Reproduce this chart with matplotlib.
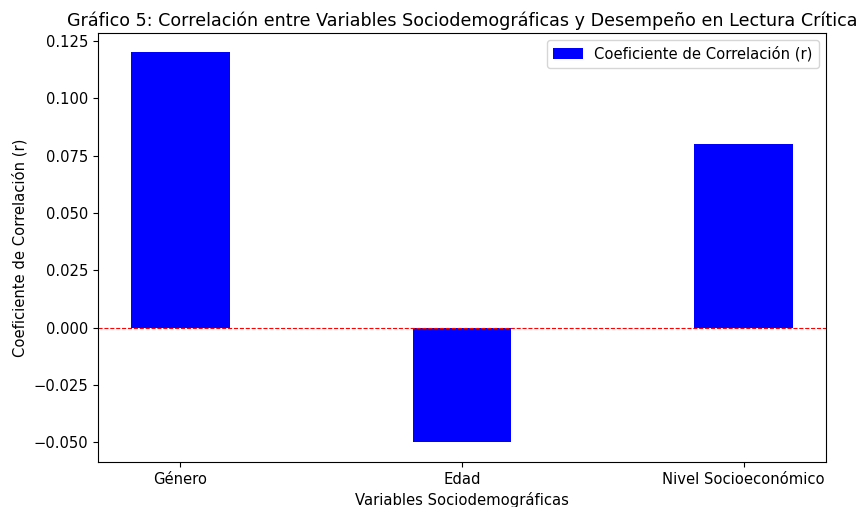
import matplotlib
matplotlib.use("Agg")
import matplotlib.pyplot as plt

categories = ["Género", "Edad", "Nivel Socioeconómico"]
correlations = [0.12, -0.05, 0.08]

fig = plt.figure(figsize=(8.62, 5.07), dpi=100)
ax = fig.add_axes([0.1137, 0.0888, 0.8445, 0.8462])
ax.bar(categories, correlations, width=0.35, color="blue", label="Coeficiente de Correlación (r)")
ax.axhline(0, color="red", linestyle="--", linewidth=0.8)
ax.set_title("Gráfico 5: Correlación entre Variables Sociodemográficas y Desempeño en Lectura Crítica", fontsize=12.6, pad=5)
ax.set_xlabel("Variables Sociodemográficas", fontsize=10.6)
ax.set_ylabel("Coeficiente de Correlación (r)", fontsize=10.6)
ax.tick_params(labelsize=10.6)
ax.legend(loc="upper right", fontsize=10.6)
fig.savefig("out.png", dpi=100)
